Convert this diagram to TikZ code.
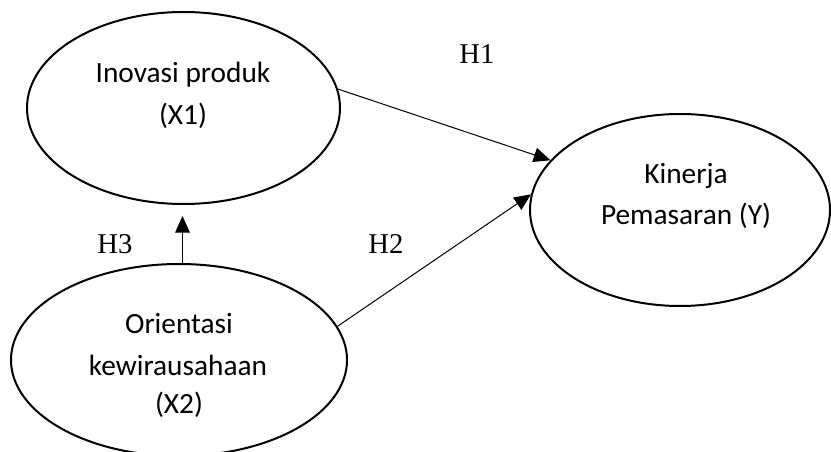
\documentclass[tikz,border=0pt]{standalone}
\usepackage{fontspec}
\setmainfont{Carlito}
\newfontfamily\hfont{Liberation Serif}
\usetikzlibrary{arrows.meta,shapes.geometric}
\begin{document}
\begin{tikzpicture}[x=0.75pt,y=-0.75pt,
  ell/.style={draw, line width=1.5pt, ellipse, inner sep=0pt},
  lbl/.style={anchor=base, inner sep=0pt, font=\fontsize{22}{26}\selectfont},
  hyp/.style={anchor=base, inner sep=0pt, font=\hfont\fontsize{21.5}{26}\selectfont},
  arr/.style={line width=0.75pt, -{Triangle[length=12.5pt,width=11pt]}}]
\useasboundingbox[clip] (0,0) rectangle (831,452);
% ellipses
\node[ell, minimum width=234.75pt, minimum height=144pt] (x1) at (183.5,108) {};
\node[ell, minimum width=225pt, minimum height=144pt] (y) at (680,210) {};
\node[ell, minimum width=252pt, minimum height=144pt] (x2) at (179,360) {};
% texts
\node[lbl] (x1a) at (183,83) {Inovasi produk};
\node[lbl] (x1b) at (183,125) {(X1)};
\node[lbl] (ya) at (686,184) {Kinerja};
\node[lbl] (yb) at (686,225) {Pemasaran (Y)};
\node[lbl] (x2a) at (179,333) {Orientasi};
\node[lbl] (x2b) at (178,375) {kewirausahaan};
\node[lbl] (x2c) at (179,413) {(X2)};
% hypothesis labels
\node[hyp] (h1) at (477,64) {H1};
\node[hyp] (h2) at (386,253) {H2};
\node[hyp] (h3) at (115,253) {H3};
% connectors
\coordinate (h3end) at (182.5,216);
\draw[arr] (x1.7) -- (y.159);
\draw[arr] (x2.12) -- (y.174);
\draw[arr] (h3end |- x2.north) -- (h3end);
\end{tikzpicture}
\end{document}
